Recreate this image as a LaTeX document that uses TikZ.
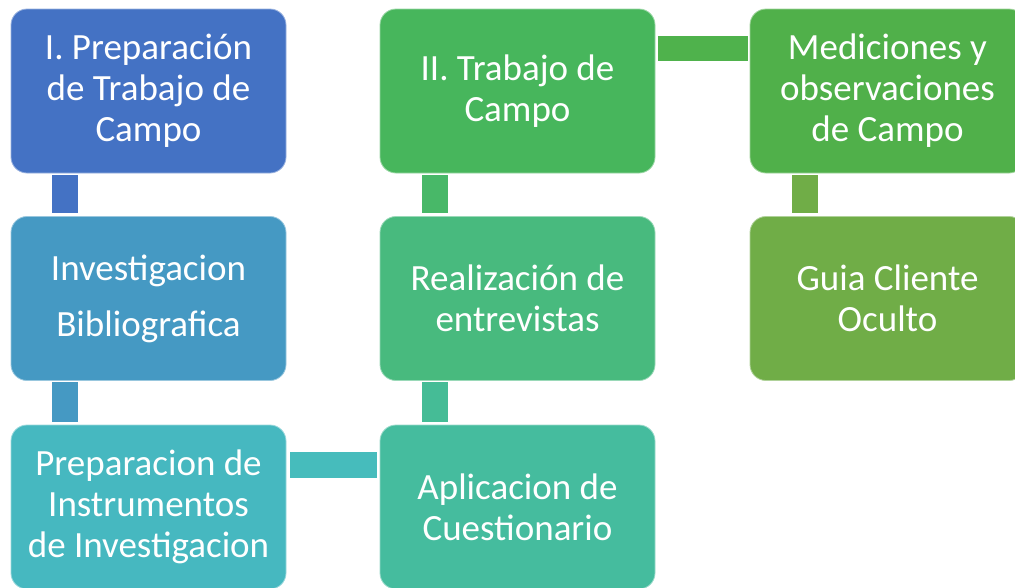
\documentclass[tikz,border=0pt]{standalone}
\usepackage{fontspec}
\setmainfont{Carlito}
\definecolor{cA}{HTML}{4472C4}
\definecolor{cB}{HTML}{4599C3}
\definecolor{cC}{HTML}{46B8C0}
\definecolor{cD}{HTML}{47B65C}
\definecolor{cE}{HTML}{48BA7E}
\definecolor{cF}{HTML}{45BC9E}
\definecolor{cG}{HTML}{50B04A}
\definecolor{cH}{HTML}{70AD47}
\definecolor{kA}{HTML}{4472C4}
\definecolor{kB}{HTML}{4599C3}
\definecolor{kC}{HTML}{46BCBC}
\definecolor{kD}{HTML}{45BC96}
\definecolor{kE}{HTML}{48B868}
\definecolor{kF}{HTML}{4FB24C}
\definecolor{kG}{HTML}{70AD47}
\tikzset{
  box/.style={rounded corners=16pt, minimum width=275pt, minimum height=164pt,
    inner sep=0pt, align=center, text=white, line width=0.8pt,
    font=\fontsize{37}{41}\selectfont},
}
\begin{document}
\begin{tikzpicture}[x=1pt,y=-1pt]
\useasboundingbox (0,0) rectangle (1015,587);
\fill[white] (0,0) rectangle (1015,587);
\node[box, fill=cA, draw=cA!55!white] (b1) at (148.5,91) {I. Preparación\\de Trabajo de\\Campo};
\node[box, fill=cB, draw=cB!55!white] (b2) at (148.5,298.5) {Investigacion\\[15pt]Bibliografica};
\node[box, fill=cC, draw=cC!55!white] (b3) at (148.5,507) {Preparacion de\\Instrumentos\\de Investigacion};
\node[box, fill=cD, draw=cD!55!white] (b4) at (517.5,91) {II. Trabajo de\\Campo};
\node[box, fill=cE, draw=cE!55!white] (b5) at (517.5,298.5) {Realización de\\entrevistas};
\node[box, fill=cF, draw=cF!55!white] (b6) at (517.5,507) {Aplicacion de\\Cuestionario};
\node[box, fill=cG, draw=cG!55!white] (b7) at (887.5,91) {Mediciones y\\observaciones\\de Campo};
\node[box, fill=cH, draw=cH!55!white] (b8) at (887.5,298.5) {Guia Cliente\\Oculto};
% connectors
\fill[kA] ([xshift=41pt,yshift=-2pt]b1.south west) rectangle ([xshift=67pt,yshift=3pt]b2.north west);
\fill[kB] ([xshift=41pt,yshift=-1pt]b2.south west) rectangle ([xshift=67pt,yshift=3pt]b3.north west);
\fill[kC] ([xshift=4pt,yshift=-27pt]b3.north east) rectangle ([xshift=-3pt,yshift=-53pt]b6.north west);
\fill[kD] ([xshift=42pt,yshift=-1pt]b5.south west) rectangle ([xshift=68pt,yshift=3pt]b6.north west);
\fill[kE] ([xshift=42pt,yshift=-2pt]b4.south west) rectangle ([xshift=68pt,yshift=3pt]b5.north west);
\fill[kF] ([xshift=3pt,yshift=-27pt]b4.north east) rectangle ([xshift=-2pt,yshift=-52pt]b7.north west);
\fill[kG] ([xshift=42pt,yshift=-2pt]b7.south west) rectangle ([xshift=68pt,yshift=3pt]b8.north west);
\end{tikzpicture}
\end{document}
